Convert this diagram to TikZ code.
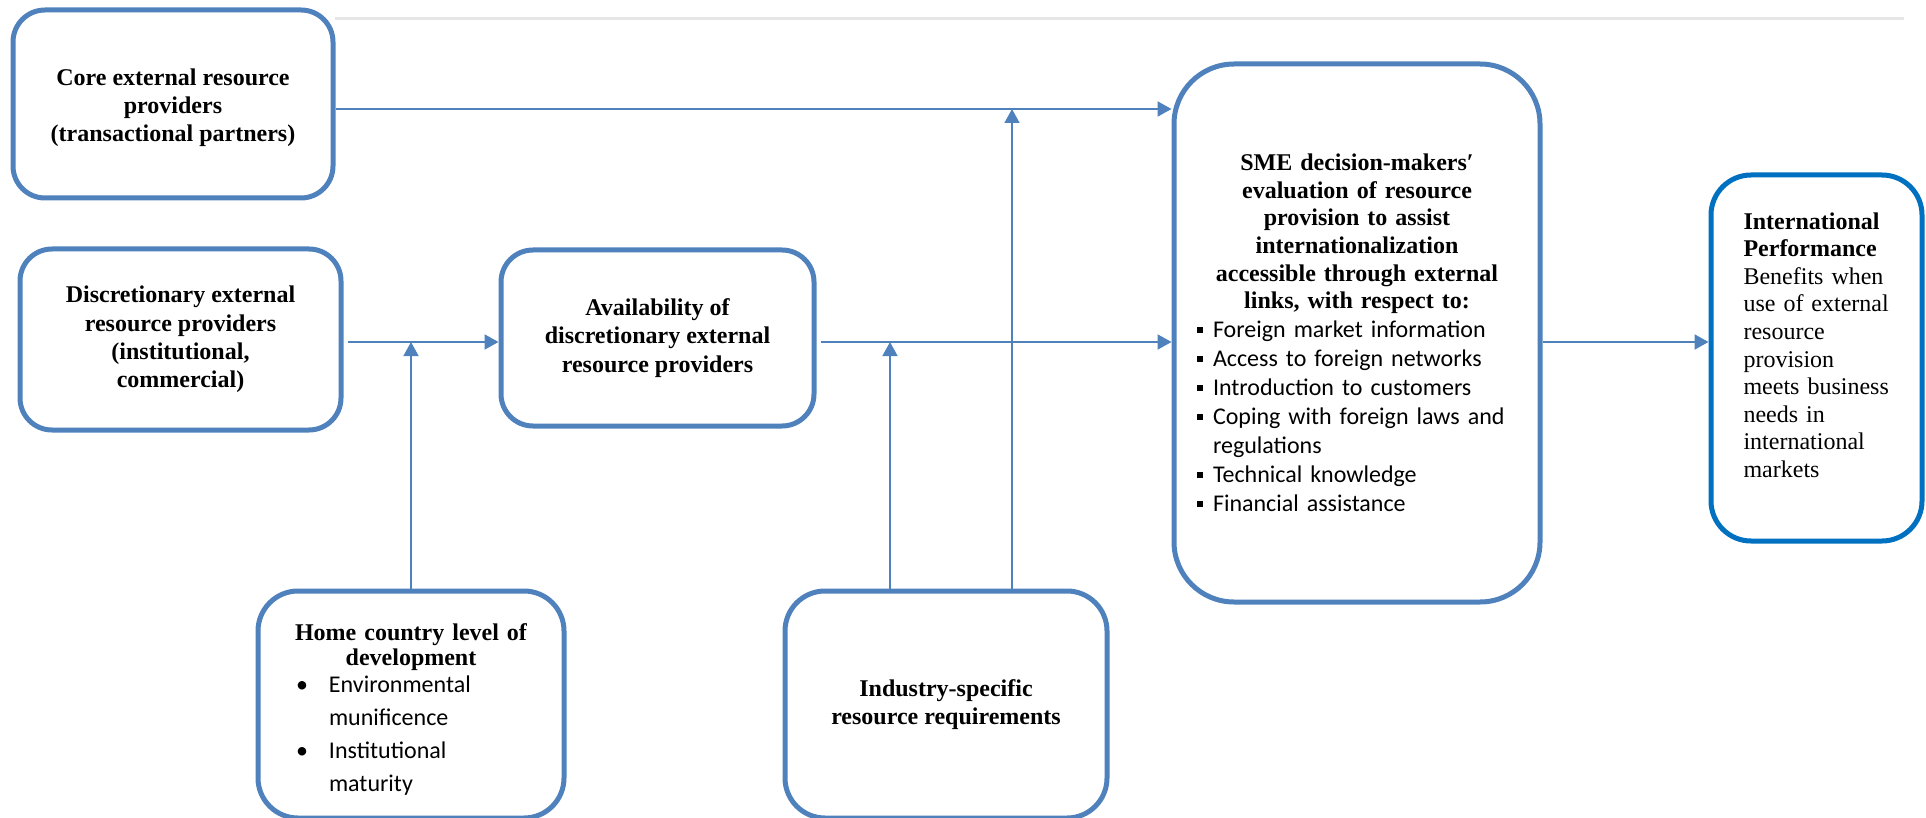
\documentclass[tikz,border=0pt]{standalone}
\usepackage{fontspec}
\setmainfont{Liberation Serif}
\newfontfamily\calibrifont{Carlito}
\usepackage{xcolor}
\usepackage{tikz}
\usetikzlibrary{arrows.meta,positioning,calc}
\definecolor{accentBlue}{HTML}{4F81BD}
\definecolor{perfBlue}{HTML}{0070C0}
\definecolor{ruleGray}{HTML}{E6E6E6}

\newcommand{\headfont}{\fontsize{12}{14.2}\selectfont\bfseries}
\newcommand{\plainfont}{\fontsize{12}{13.8}\selectfont}
\newcommand{\sqbul}{\makebox[8pt][l]{\raisebox{2.5pt}{\rule{3pt}{3pt}}}}
\newcommand{\rdbul}{\makebox[16.5pt][l]{\textbullet}}

\begin{document}
\begin{tikzpicture}[
    x=0.5pt, y=-0.5pt,
    block/.style={draw=accentBlue, fill=white, line width=2.5pt, rounded corners=16pt, inner sep=0pt, align=center, font=\headfont},
    feed/.style={draw=accentBlue, line width=1pt, -{Triangle[length=7pt,width=7.5pt]}},
    rise/.style={feed, line width=0.75pt}
  ]
    \useasboundingbox (0,0) rectangle (1926,818);
    \draw[ruleGray, line width=1.5pt] (335,19) -- (1904,19);

    % providers on the left
    \node[block, minimum width=160pt, minimum height=94pt] (core) at (173,104) {\rule{0pt}{12pt}Core external resource\\providers\\(transactional partners)};
    \node[block, minimum width=160.5pt, minimum height=90.5pt] (disc) at (180.5,339.5) {Discretionary external\\resource providers\\(institutional,\\commercial)};
    \node[block, minimum width=156.5pt, minimum height=88pt] (avail) at (657.5,338) {Availability of\\discretionary external\\resource providers};

    % evaluation and outcome
    \node[block, minimum width=183pt, minimum height=269pt, rounded corners=30pt, text width=160pt, align=left, font=\plainfont] (sme) at (1357,333) {\parindent=0pt
      {\centering\bfseries SME decision-makers′\hspace*{10pt}\\ evaluation of resource\\ provision to assist\\ internationalization\\ accessible through external\\ links, with respect to:\par}
      {\calibrifont\fontsize{12}{14.5}\selectfont
      \sqbul Foreign market information\\
      \sqbul Access to foreign networks\\
      \sqbul Introduction to customers\\
      \sqbul Coping with foreign laws and\\
      \hspace*{8pt}regulations\\
      \sqbul Technical knowledge\\
      \sqbul Financial assistance\par}};
    \node[block, draw=perfBlue, minimum width=105.5pt, minimum height=183pt, rounded corners=20pt, text width=73pt, align=left, font=\plainfont] (intl) at (1816.5,358) {\parindent=0pt
      \textbf{International}\\\textbf{Performance}\\Benefits when\\use of external\\resource\\provision\\meets business\\needs in\\international\\markets\rule[-13pt]{0pt}{13pt}};

    % moderators at the bottom
    \node[block, minimum width=153pt, minimum height=113.5pt, rounded corners=20pt, text width=125pt, align=left, font=\plainfont] (home) at (411,704.5) {\parindent=0pt
      {\centering\fontsize{12}{12.5}\selectfont\bfseries\rule{0pt}{13.5pt}Home country level of\\development\par}
      \vspace{-3pt}
      {\calibrifont\fontsize{12}{16.5}\selectfont\leftskip=5pt
      \rdbul Environmental\\\hspace*{16.5pt}munificence\\
      \rdbul Institutional\\\hspace*{16.5pt}maturity\par}};
    \node[block, minimum width=161pt, minimum height=113.5pt, rounded corners=20pt] (ind) at (946,704.5) {Industry-specific\\resource requirements};

    \coordinate (top) at (0,109);
    \coordinate (row) at (0,342);
    \coordinate (indL) at ([xshift=-28pt]ind.north);
    \coordinate (indR) at ([xshift=33pt]ind.north);

    \draw[feed] (core.east |- top) -- (sme.west |- top);
    \draw[feed, shorten <=2pt] (disc.east |- row) -- (avail.west |- row);
    \draw[feed, shorten <=2pt] (avail.east |- row) -- (sme.west |- row);
    \draw[feed] (sme.east |- row) -- (intl.west |- row);
    \draw[rise] (home.north) -- (home.north |- row);
    \draw[rise] (indL) -- (indL |- row);
    \draw[rise] (indR) -- (indR |- top);
\end{tikzpicture}
\end{document}
